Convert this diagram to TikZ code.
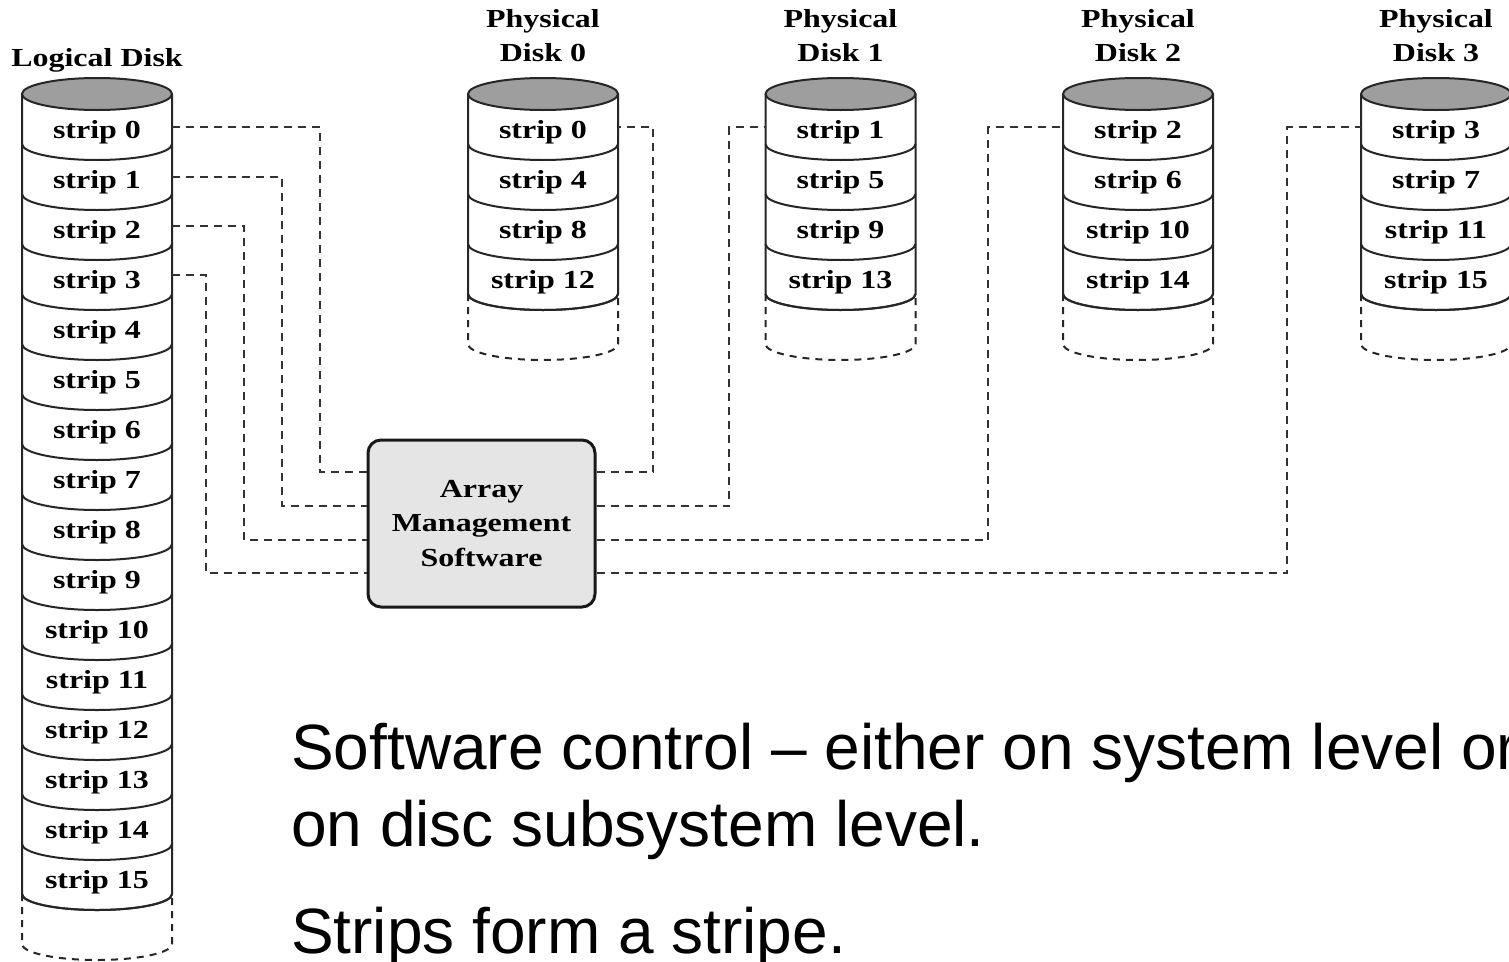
\documentclass[tikz,border=0pt]{standalone}
\usepackage{fontspec}
\setmainfont{Liberation Serif}
\newfontfamily\dskfont[FakeStretch=1.23,UprightFont={* Bold}]{Liberation Serif}
\newfontfamily\txtfont{Liberation Sans}
\tikzset{
  diskline/.style={line width=2pt, draw=black!85},
  diskdash/.style={diskline, dash pattern=on 7pt off 6pt},
  topcap/.style={diskline, fill=black!38},
  conn/.style={line width=1.8pt, draw=black!80, dash pattern=on 8pt off 6pt},
  striptext/.style={font=\dskfont\fontsize{26}{30}\selectfont, anchor=base, inner sep=0pt},
  disklabel/.style={font=\dskfont\fontsize{26}{34.5}\selectfont, align=center, anchor=south, inner sep=0pt, text depth=0pt},
  softbox/.style={draw=black!90, line width=3pt, rounded corners=13pt, fill=black!10,
    minimum width=227pt, minimum height=167pt, inner sep=0pt, align=center,
    font=\dskfont\fontsize{26}{34.5}\selectfont},
  bodytext/.style={font=\txtfont\fontsize{64}{77}\selectfont, inner sep=0pt, align=left}
}
\newcommand\drawdisk[2]{%
  \draw[diskline] (#1,94) -- (#1,94+50*#2) arc[start angle=180,end angle=0,x radius=75,y radius=16] -- (#1+150,94);
  \foreach \k in {1,...,#2}{
    \draw[diskline] (#1,94+50*\k) arc[start angle=180,end angle=0,x radius=75,y radius=16];
  }
  \draw[diskdash] (#1,94+50*#2) -- (#1,144+50*#2) arc[start angle=180,end angle=0,x radius=75,y radius=16] -- (#1+150,94+50*#2);
  \draw[topcap] (#1+75,94) ellipse[x radius=75,y radius=16];
}
\begin{document}
\begin{tikzpicture}[x=1pt,y=-1pt]
\useasboundingbox (0,0) rectangle (1509,961);
\fill[white] (0,0) rectangle (1509,961);
\clip (0,0) rectangle (1509,961);

% logical disk
\drawdisk{22}{16}
\node[striptext] (lglabel) at (97,66) {Logical Disk};
\foreach \k in {0,...,15}{
  \node[striptext] (lg\k) at (97,138.5+50*\k) {strip \k};
}
\coordinate (lgE0) at (172,127);
\coordinate (lgE1) at (172,177);
\coordinate (lgE2) at (172,226);
\coordinate (lgE3) at (172,275);

% physical disks
\foreach \d/\L in {0/468,1/765.5,2/1063,3/1361}{
  \drawdisk{\L}{4}
  \node[disklabel] (pl\d) at (\L+75,62) {Physical\\Disk \d};
  \foreach \r in {0,...,3}{
    \pgfmathtruncatemacro\n{\d+4*\r}
    \node[striptext] (p\d s\r) at (\L+75,138.5+50*\r) {strip \n};
  }
}
\coordinate (pE0) at (618,127);
\coordinate (pW1) at (765.5,127);
\coordinate (pW2) at (1063,127);
\coordinate (pW3) at (1361,127);

% array management software
\node[softbox] (ams) at (481.5,523.5) {Array\\Management\\Software};

% connectors, left side
\draw[conn] (lgE0) -- (320,127) -- (320,472) -- (ams.west |- 0,472);
\draw[conn] (lgE1) -- (282,177) -- (282,506) -- (ams.west |- 0,506);
\draw[conn] (lgE2) -- (244,226) -- (244,540) -- (ams.west |- 0,540);
\draw[conn] (lgE3) -- (206,275) -- (206,573) -- (ams.west |- 0,573);
% connectors, right side
\draw[conn] (ams.east |- 0,472) -- (653,472) -- (653,127) -- (pE0);
\draw[conn] (ams.east |- 0,506) -- (729,506) -- (729,127) -- (pW1);
\draw[conn] (ams.east |- 0,540) -- (988,540) -- (988,127) -- (pW2);
\draw[conn] (ams.east |- 0,573) -- (1287,573) -- (1287,127) -- (pW3);

% text
\node[bodytext, anchor=south west, text depth=0pt] (txt1) at (291,847)
  {Software control – either on system level or\\on disc subsystem level.};
\node[bodytext, anchor=base west] (txt2) at (291,953) {Strips form a stripe.};
\end{tikzpicture}
\end{document}
